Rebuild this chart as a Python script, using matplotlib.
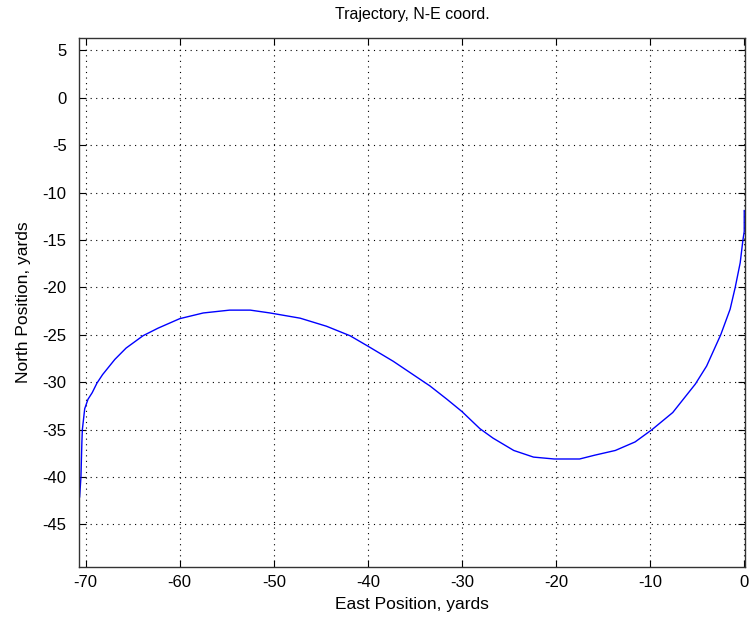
import matplotlib
matplotlib.use("Agg")
import matplotlib.pyplot as plt

east = [-70.64, -70.5, -70.4, -70.35, -70.1, -69.75, -69.3, -68.8, -68.2, -66.9,
        -65.7, -63.9, -62.3, -60.0, -57.5, -54.7, -52.5, -50.4, -47.2, -44.4,
        -41.9, -40.0, -37.3, -35.2, -33.4, -31.6, -30.0, -28.1, -26.7, -24.5,
        -22.4, -20.2, -17.5, -15.9, -13.7, -11.6, -9.8, -7.6, -5.2,
        -4.0, -2.5, -1.5, -0.96, -0.43, -0.14, 0.0, 0.0]
north = [-42.1, -40.0, -36.3, -35.0, -32.8, -31.8, -31.1, -30.1, -29.2, -27.6,
         -26.4, -25.1, -24.3, -23.3, -22.7, -22.4, -22.4, -22.7, -23.25, -24.1,
         -25.1, -26.2, -27.8, -29.2, -30.4, -31.8, -33.1, -34.9, -35.9, -37.2,
         -37.9, -38.1, -38.1, -37.7, -37.2, -36.3, -35.0, -33.2, -30.2,
         -28.3, -25.0, -22.3, -20.0, -17.4, -15.0, -14.1, -11.9]

xticks = [-70, -60, -50, -40, -30, -20, -10, 0]
yticks = [5, 0, -5, -10, -15, -20, -25, -30, -35, -40, -45]

plt.rcParams['font.family'] = ['Liberation Sans', 'DejaVu Sans']
plt.rcParams['axes.unicode_minus'] = False

fig = plt.figure(figsize=(7.53, 6.28), dpi=100)
ax = fig.add_axes([0.105, 0.097, 0.884, 0.8425])
ax.plot(east, north, color=(0, 0, 1), linewidth=1.0)
ax.set_xlim(-70.7, 0.05)
ax.set_ylim(-49.5, 6.3)
ax.set_xticks(xticks)
ax.set_yticks(yticks)
ax.grid(True, color='black', linestyle=(0, (1, 4)), linewidth=0.8)
ax.tick_params(direction='in', length=5, top=True, right=True, labelsize=12)
ax.tick_params(axis='y', pad=9)
ax.tick_params(axis='x', pad=6)
for s in ax.spines.values():
    s.set_linewidth(1.0)
    s.set_color('#333333')
ax.set_title('Trajectory, N-E coord.', fontsize=11.5, pad=14)
ax.set_xlabel('East Position, yards', fontsize=12.5, labelpad=5)
ax.set_ylabel('North Position, yards', fontsize=12.5, labelpad=8)
fig.savefig('out.png', dpi=100)
